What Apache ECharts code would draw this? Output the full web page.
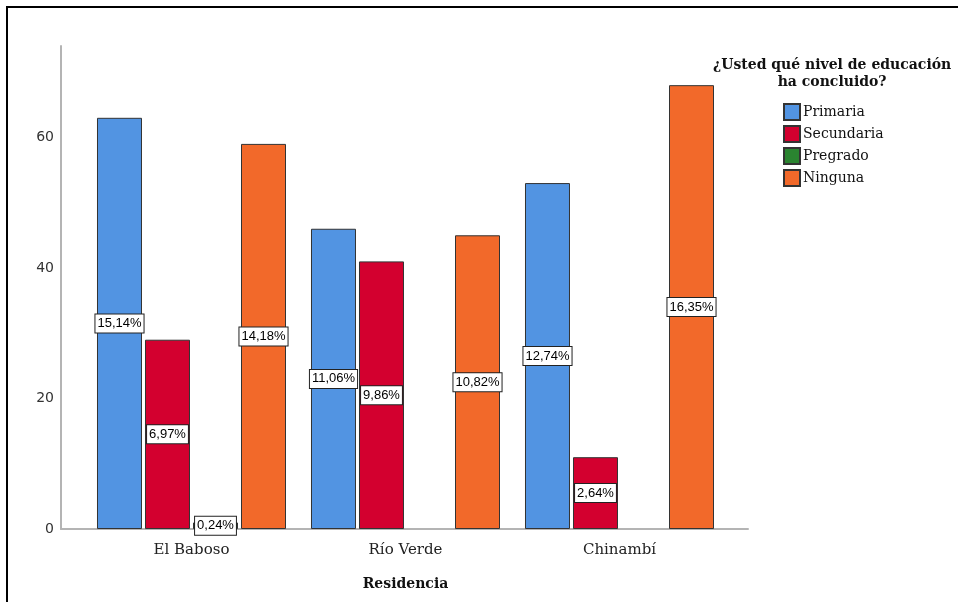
<!DOCTYPE html>
<html>
<head>
<meta charset="utf-8">
<script src="https://cdn.jsdelivr.net/npm/echarts@6/dist/echarts.min.js"></script>
<style>
  html, body { margin: 0; padding: 0; background: #fff; }
  #frame { position: absolute; left: 6px; top: 6px; width: 960px; height: 600px;
           border-left: 2px solid #000; border-top: 2px solid #000; }
  #chart { position: absolute; left: 0; top: 0; width: 958px; height: 602px; }
</style>
</head>
<body>
<div id="frame"></div>
<div id="chart"></div>
<script>
// Data (counts)
const categories = ['El Baboso', 'Río Verde', 'Chinambí'];
const primaria   = [63, 46, 53];
const secundaria = [29, 41, 11];
const pregrado   = [1, 0, 0];
const ninguna    = [59, 45, 68];
const seriesNames = ['Primaria', 'Secundaria', 'Pregrado', 'Ninguna'];
const yTicks = [0, 20, 40, 60];
const legendTitle = '¿Usted qué nivel de educación\nha concluido?';
const xAxisTitle = 'Residencia';

const allValues = [primaria, secundaria, pregrado, ninguna];
const total = allValues.flat().reduce((a, b) => a + b, 0);

const colors = ['#5294E2', '#D3002F', '#2A8430', '#F2692A'];
const serif = 'DejaVu Serif';

const chart = echarts.init(document.getElementById('chart'), null, { renderer: 'canvas' });

function pctLabel(p) {
  return (p.value / total * 100).toFixed(2).replace('.', ',') + '%';
}

const series = allValues.map((vals, i) => ({
  name: seriesNames[i],
  type: 'bar',
  xAxisIndex: 1,
  yAxisIndex: 1,
  data: vals.map(v => v > 0 ? v : { value: v, label: { show: false }, itemStyle: { borderWidth: 0 } }),
  barWidth: 45,
  barGap: '6.67%',
  itemStyle: { color: colors[i], borderColor: '#333', borderWidth: 1 },
  label: {
    show: true,
    position: 'inside',
    formatter: pctLabel,
    fontFamily: 'Liberation Sans',
    fontSize: 13,
    color: '#000',
    backgroundColor: '#fff',
    borderColor: '#222',
    borderWidth: 1,
    padding: [3, 2, 2, 2]
  },
  emphasis: { disabled: true }
}));

chart.setOption({
  animation: false,
  grid: [
    { left: 61, right: 210, top: 46, bottom: 73 },
    { left: 84.5, right: 231.5, top: 46, bottom: 73 }
  ],
  xAxis: [
    {
      gridIndex: 0, type: 'category', data: categories,
      axisLine: { lineStyle: { color: '#B4B4B4', width: 2 } },
      axisTick: { show: false }, axisLabel: { show: false }
    },
    {
      gridIndex: 1, type: 'category', data: categories,
      axisLine: { show: false }, axisTick: { show: false },
      axisLabel: { fontFamily: serif, fontSize: 15, color: '#222', margin: 14 },
      name: xAxisTitle, nameLocation: 'middle', nameGap: 48,
      nameTextStyle: { fontFamily: serif, fontSize: 14, fontWeight: 'bold', color: '#111' }
    }
  ],
  yAxis: [
    {
      gridIndex: 0, type: 'value', min: 0, max: 74, interval: 20,
      axisLine: { show: true, lineStyle: { color: '#B4B4B4', width: 2 } },
      axisTick: { show: false }, splitLine: { show: false },
      axisLabel: {
        fontFamily: 'DejaVu Sans', fontSize: 14, color: '#333', margin: 7,
        formatter: v => (yTicks.indexOf(v) >= 0 ? String(v) : '')
      }
    },
    {
      gridIndex: 1, type: 'value', min: 0, max: 74, interval: 20, show: false
    }
  ],
  legend: {
    orient: 'vertical', left: 778, top: 98,
    itemWidth: 16, itemHeight: 16, itemGap: 4,
    icon: 'rect',
    textStyle: { fontFamily: serif, fontSize: 14, color: '#111', padding: [0, 0, 0, -2] },
    data: seriesNames,
    selectedMode: false
  },
  graphic: [{
    type: 'text', left: 713, top: 57,
    style: {
      text: legendTitle, font: 'bold 14px "DejaVu Serif"', fill: '#111',
      textAlign: 'center', lineHeight: 17
    }
  }],
  series: series
});
</script>
</body>
</html>
